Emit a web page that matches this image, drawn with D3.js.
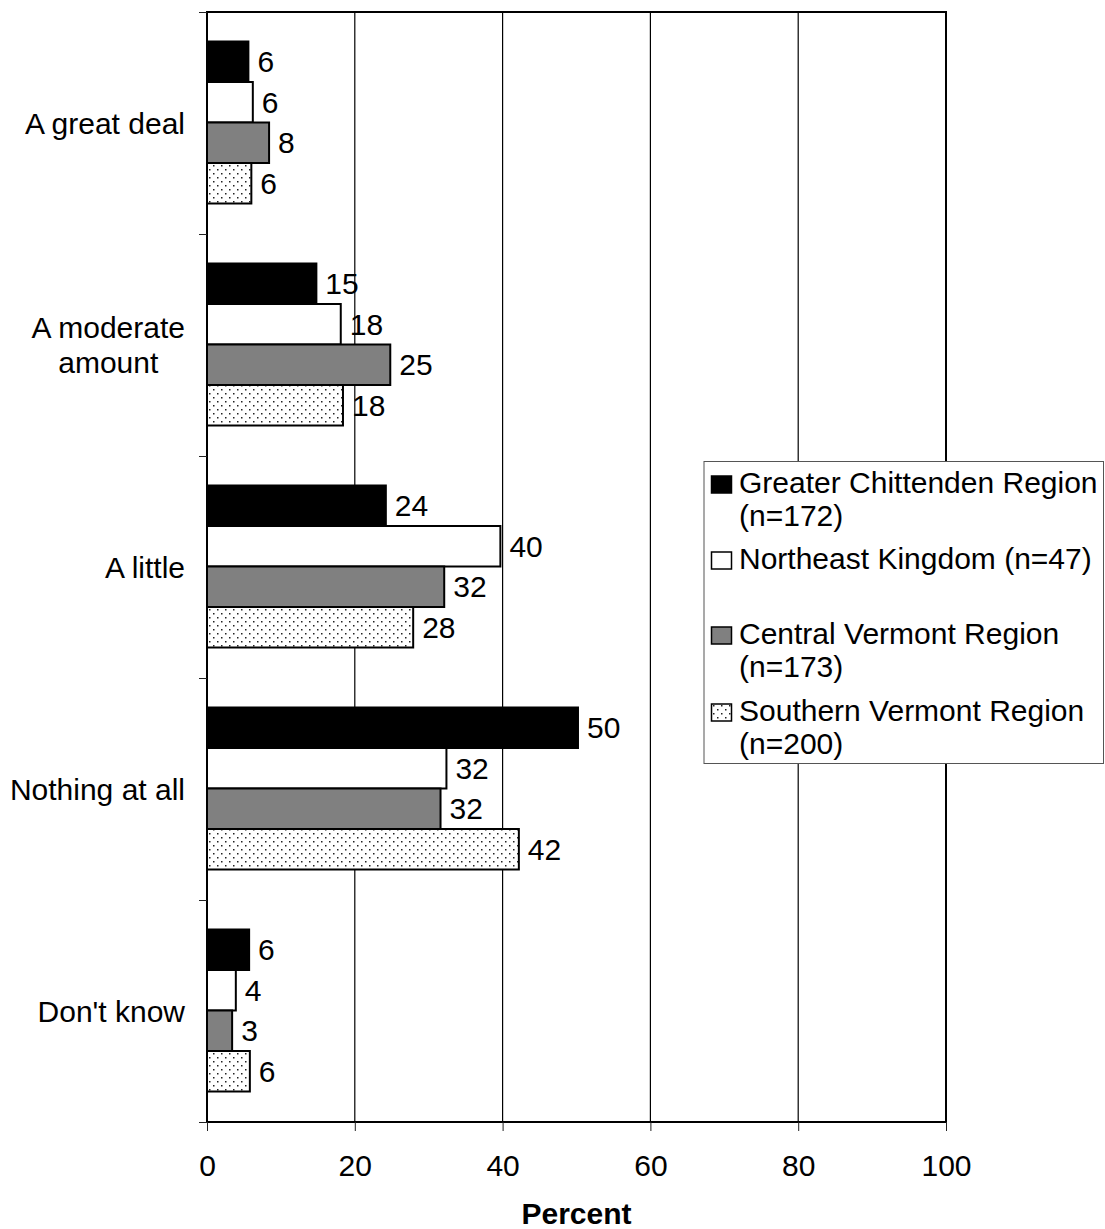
<!DOCTYPE html>
<html><head><meta charset="utf-8">
<script src="https://cdn.jsdelivr.net/npm/d3@7"></script>
<style>
body{margin:0;background:#fff;}
text{font-family:"Liberation Sans",Arial,sans-serif;fill:#000;}
</style>
</head><body>
<svg id="chart" width="1105" height="1229"></svg>
<script>
// ---- data ----
const categories = ["A great deal", "A moderate amount", "A little", "Nothing at all", "Don't know"];
const categoryLines = [["A great deal"], ["A moderate", "amount"], ["A little"], ["Nothing at all"], ["Don't know"]];
const seriesKeys = ["chittenden", "northeast", "central", "southern"];
const legendLines = [
  ["Greater Chittenden Region", "(n=172)"],
  ["Northeast Kingdom (n=47)"],
  ["Central Vermont Region", "(n=173)"],
  ["Southern Vermont Region", "(n=200)"]
];
const chittenden = [5.6, 14.8, 24.2, 50.2, 5.7];
const northeast  = [6.2, 18.1, 39.7, 32.4, 3.9];
const central    = [8.4, 24.8, 32.1, 31.6, 3.4];
const southern   = [6.0, 18.4, 27.9, 42.2, 5.8];
const xTicks = [0, 20, 40, 60, 80, 100];
const xTitle = "Percent";

const seriesValues = [chittenden, northeast, central, southern];
const fills = ["#000000", "#ffffff", "#808080", "url(#dots)"];

// ---- layout ----
const L = 207, R = 946, T = 12, B = 1122;
const FS = 30;
const svg = d3.select("#chart");
svg.append("rect").attr("width", 1105).attr("height", 1229).attr("fill", "#fff");

const defs = svg.append("defs");
const pat = defs.append("pattern").attr("id", "dots").attr("patternUnits", "userSpaceOnUse")
  .attr("width", 8).attr("height", 8);
pat.append("rect").attr("width", 8).attr("height", 8).attr("fill", "#fff");
pat.append("rect").attr("x", 1).attr("y", 1).attr("width", 1.5).attr("height", 1.5).attr("fill", "#222");
pat.append("rect").attr("x", 5).attr("y", 5).attr("width", 1.5).attr("height", 1.5).attr("fill", "#222");

const x = d3.scaleLinear().domain([0, 100]).range([L, R]);
const y0 = d3.scaleBand().domain(categories).range([T, B]);
const y1 = d3.scaleBand().domain(seriesKeys).range([29.5, 191.5]);

// gridlines
svg.append("g").selectAll("line").data(xTicks.filter(d => d > 0 && d < 100)).join("line")
  .attr("x1", d => x(d)).attr("x2", d => x(d)).attr("y1", T).attr("y2", B)
  .attr("stroke", "#000").attr("stroke-width", 1.2);

// bars
const rows = [];
categories.forEach((c, i) => seriesKeys.forEach((k, j) => rows.push({c, k, j, v: seriesValues[j][i]})));
svg.append("g").selectAll("rect").data(rows).join("rect")
  .attr("x", x(0))
  .attr("y", d => y0(d.c) + y1(d.k))
  .attr("width", d => x(d.v) - x(0))
  .attr("height", y1.bandwidth())
  .attr("fill", d => fills[d.j])
  .attr("stroke", "#000").attr("stroke-width", 2);

// value labels
svg.append("g").selectAll("text").data(rows).join("text")
  .attr("x", d => x(d.v) + 9)
  .attr("y", d => y0(d.c) + y1(d.k) + y1.bandwidth() / 2)
  .attr("dy", "0.35em")
  .attr("font-size", FS)
  .text(d => d3.format(".0f")(d.v));

// frame
svg.append("rect").attr("x", L).attr("y", T).attr("width", R - L).attr("height", B - T)
  .attr("fill", "none").attr("stroke", "#000").attr("stroke-width", 2);

// left axis ticks (category boundaries)
const yIdx = d3.scaleLinear().domain([0, categories.length]).range([T, B]);
const leftAxis = d3.axisLeft(yIdx).ticks(categories.length).tickSize(8).tickFormat("");
const gl = svg.append("g").attr("transform", `translate(${L},0)`).call(leftAxis);
gl.select(".domain").remove();
gl.selectAll("line").attr("stroke", "#222").attr("stroke-width", 1);

// bottom axis
const bottomAxis = d3.axisBottom(x).tickValues(xTicks).tickSize(9).tickPadding(24);
const gb = svg.append("g").attr("transform", `translate(0,${B})`).call(bottomAxis);
gb.select(".domain").remove();
gb.selectAll("line").attr("stroke", "#222").attr("stroke-width", 1);
gb.selectAll("text").attr("font-size", FS).attr("font-family", "Liberation Sans, Arial, sans-serif").attr("fill", "#000");

// category labels
categories.forEach((c, i) => {
  const lines = categoryLines[i];
  const cy = y0(c) + y0.bandwidth() / 2;
  const lh = 35;
  const g = svg.append("g");
  const texts = lines.map((ln, k) => g.append("text")
    .attr("font-size", FS)
    .attr("y", cy + (k - (lines.length - 1) / 2) * lh)
    .attr("dy", "0.36em")
    .text(ln));
  const maxW = d3.max(texts, t => t.node().getComputedTextLength());
  texts.forEach(t => t.attr("text-anchor", "middle").attr("x", 185 - maxW / 2));
});

// axis title
svg.append("text").attr("x", (L + R) / 2).attr("y", 1224).attr("text-anchor", "middle")
  .attr("font-size", FS).attr("font-weight", "bold").text(xTitle);

// legend
const lg = svg.append("g");
lg.append("rect").attr("x", 704).attr("y", 461.5).attr("width", 399.5).attr("height", 302)
  .attr("fill", "#fff").attr("stroke", "#555").attr("stroke-width", 1);
const legendBase = [493, 569, 644, 721];
legendLines.forEach((lines, j) => {
  lg.append("rect").attr("x", 711.5).attr("y", legendBase[j] - 17).attr("width", 20).attr("height", 17)
    .attr("fill", fills[j]).attr("stroke", "#000").attr("stroke-width", 1.5);
  lines.forEach((ln, k) => lg.append("text").attr("x", 739).attr("y", legendBase[j] + k * 33)
    .attr("font-size", FS).text(ln));
});
</script>
</body></html>
